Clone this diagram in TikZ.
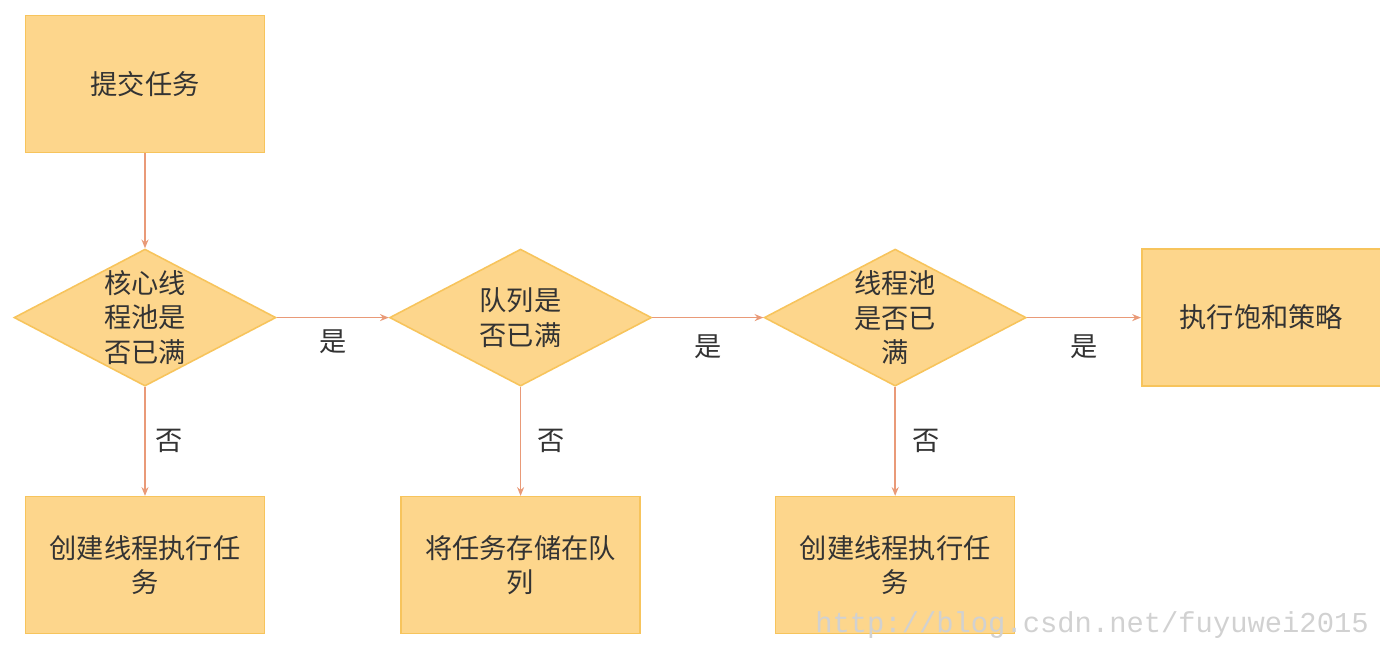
\documentclass[tikz,border=0pt]{standalone}
\usepackage{fontspec}
\newfontfamily\cjk{Noto Sans CJK SC}
\newfontfamily\markfont{Liberation Mono}
\usepackage{tikz}
\usetikzlibrary{shapes.geometric, arrows.meta, positioning}
\usepackage{xcolor}
\definecolor{boxfill}{HTML}{FDD68C}
\definecolor{boxline}{HTML}{F7C45C}
\definecolor{flowline}{HTML}{E99A78}
\definecolor{txt}{HTML}{333333}
\tikzset{
    process/.style={
        rectangle, minimum width=4.78cm, minimum height=2.74cm,
        align=center, draw=boxline, fill=boxfill, line width=0.9pt,
        text=txt, font=\cjk\fontsize{15.5}{19.5}\selectfont
    },
    decision/.style={
        diamond, aspect=1.91, inner sep=0pt,
        minimum width=5.24cm, minimum height=2.74cm,
        align=center, draw=boxline, fill=boxfill, line width=0.9pt,
        text=txt, font=\cjk\fontsize{15.5}{19.5}\selectfont
    },
    arrow/.style={
        -{Stealth[length=5pt, width=4pt]}, line width=0.9pt, draw=flowline
    },
    answer/.style={
        text=txt, font=\cjk\fontsize{15.5}{19.5}\selectfont
    }
}
\begin{document}
\begin{tikzpicture}

    \useasboundingbox (0,0) rectangle (27.6,-13.04);

    \node[process]                        (submit) at (2.9,-1.68) {提交任务};
    \node[decision, below=1.9cm of submit]  (core)   {核心线\\程池是\\否已满};
    \node[decision, right=2.24cm of core]   (queue)  {队列是\\否已满};
    \node[decision, right=2.22cm of queue]  (pool)   {线程池\\是否已\\满};
    \node[process, right=2.28cm of pool]    (reject) {执行饱和策略};
    \node[process, below=2.18cm of core]    (newcore)  {创建线程执行任\\务};
    \node[process, below=2.18cm of queue]   (enqueue)  {将任务存储在队\\列};
    \node[process, below=2.18cm of pool]    (newthread){创建线程执行任\\务};

    \draw[arrow] (submit) -- (core);
    \draw[arrow] (core)  -- node[answer, midway, below=3pt] {是} (queue);
    \draw[arrow] (queue) -- node[answer, midway, below=6pt] {是} (pool);
    \draw[arrow] (pool)  -- node[answer, midway, below=6pt] {是} (reject);
    \draw[arrow] (core)  -- node[answer, midway, right=2pt] {否} (newcore);
    \draw[arrow] (queue) -- node[answer, midway, right=6pt] {否} (enqueue);
    \draw[arrow] (pool)  -- node[answer, midway, right=6pt] {否} (newthread);

    \node[text=black!18, font=\markfont\fontsize{16.4}{18}\selectfont]
        (watermark) at (21.84,-12.5) {http://blog.csdn.net/fuyuwei2015};

\end{tikzpicture}
\end{document}
